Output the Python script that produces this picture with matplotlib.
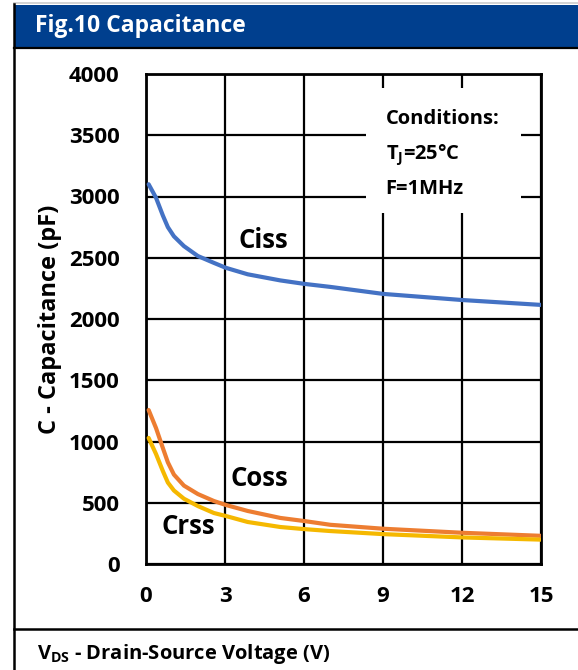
import matplotlib
matplotlib.use("Agg")
import matplotlib.pyplot as plt
from matplotlib.patches import Rectangle
from matplotlib.lines import Line2D

plt.rcParams['font.family'] = ['Open Sans', 'DejaVu Sans']
plt.rcParams['font.weight'] = 'bold'
plt.rcParams['mathtext.fontset'] = 'custom'
plt.rcParams['mathtext.rm'] = 'Open Sans:bold'
plt.rcParams['mathtext.bf'] = 'Open Sans:bold'
plt.rcParams['mathtext.it'] = 'Open Sans:bold'

# ---- data ----
vds = [0.1, 0.38, 0.64, 0.83, 1.06, 1.44, 1.97, 2.58, 3.03, 3.86, 5.1, 6, 7, 9, 12, 15]
ciss = [3100, 2990, 2845, 2750, 2675, 2595, 2514, 2458, 2418, 2365, 2315, 2287, 2262, 2205, 2155, 2115]
coss = [1257, 1110, 947, 830, 730, 640, 571, 514, 482, 433, 376, 351, 320, 288, 255, 230]
crss = [1029, 898, 759, 665, 600, 533, 473, 416, 392, 343, 302, 285, 269, 244, 217, 199]
x_ticks = [0, 3, 6, 9, 12, 15]
y_ticks = [0, 500, 1000, 1500, 2000, 2500, 3000, 3500, 4000]

W, H = 578, 670
fig = plt.figure(figsize=(W / 100, H / 100), dpi=100)

def fx(px):
    return px / W

def fy(py):
    return 1 - py / H

# frame
fig.add_artist(Rectangle((fx(14), fy(47)), fx(W) - fx(14), fy(5) - fy(47),
                         transform=fig.transFigure, facecolor='#003F8E', edgecolor='none'))
fig.add_artist(Line2D([fx(14), 1], [fy(3), fy(3)], transform=fig.transFigure, color='#cccccc', lw=1.2))
fig.add_artist(Line2D([fx(14), 1], [fy(47.5), fy(47.5)], transform=fig.transFigure, color='black', lw=1.6))
fig.add_artist(Line2D([fx(14), fx(14)], [fy(4), 0], transform=fig.transFigure, color='black', lw=1.8))
fig.add_artist(Line2D([fx(14), 1], [fy(629), fy(629)], transform=fig.transFigure, color='black', lw=1.8))

fig.text(fx(35), fy(26), 'Fig.10 Capacitance', color='white', fontsize=16.5, fontweight='bold',
         va='center', ha='left')
fig.text(fx(37), fy(654), r'V$_{\mathrm{DS}}$ - Drain-Source Voltage (V)', color='black', fontsize=14.5,
         fontweight='bold', va='center', ha='left')

ax = fig.add_axes([fx(146), fy(564), fx(541) - fx(146), fy(74) - fy(564)])
ax.set_xlim(0, 15)
ax.set_ylim(0, 4000)
ax.set_xticks(x_ticks)
ax.set_yticks(y_ticks)
ax.grid(True, color='black', lw=1.6)
ax.set_axisbelow(True)
for s in ax.spines.values():
    s.set_linewidth(2.0)
ax.tick_params(length=0, labelsize=16, pad=19)
ax.tick_params(axis='x', pad=16)
for lab in ax.get_xticklabels() + ax.get_yticklabels():
    lab.set_fontweight('bold')
ax.set_ylabel('C - Capacitance (pF)', fontsize=17, fontweight='bold', labelpad=5)

# Conditions box covering grid
ax.add_patch(Rectangle((8.37, 2865), 14.24 - 8.37, 3886 - 2865, facecolor='white',
                       edgecolor='none', zorder=1.5))
ax.text(9.1, 3630, 'Conditions:', fontsize=14.5, fontweight='bold', va='center', zorder=3)
ax.text(9.1, 3340, r'T$_{\mathrm{J}}$=25°C', fontsize=14.5, fontweight='bold', va='center', zorder=3)
ax.text(9.1, 3060, 'F=1MHz', fontsize=14.5, fontweight='bold', va='center', zorder=3)

ax.plot(vds, ciss, color='#4472C4', lw=3.0, zorder=4, solid_capstyle='round', solid_joinstyle='round')
ax.plot(vds, coss, color='#ED7D31', lw=3.0, zorder=4, solid_capstyle='round', solid_joinstyle='round')
ax.plot(vds, crss, color='#F5B800', lw=3.0, zorder=4, solid_capstyle='round', solid_joinstyle='round')

ax.text(3.5, 2640, 'Ciss', fontsize=18.5, fontweight='bold', va='center', zorder=3)
ax.text(3.2, 700, 'Coss', fontsize=18.5, fontweight='bold', va='center', zorder=3)
ax.text(0.6, 310, 'Crss', fontsize=18.5, fontweight='bold', va='center', zorder=3)

fig.savefig('out.png', dpi=100)
